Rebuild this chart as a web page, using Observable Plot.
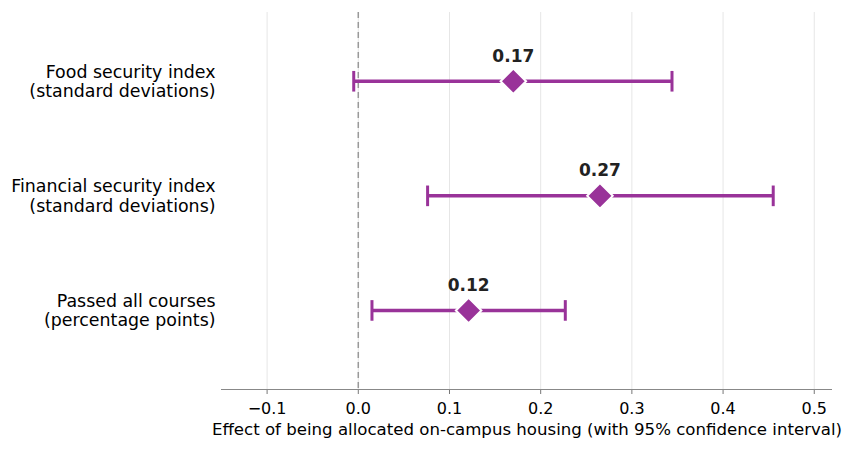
<!DOCTYPE html>
<html>
<head>
<meta charset="utf-8">
<script src="https://cdn.jsdelivr.net/npm/d3@7"></script>
<script src="https://cdn.jsdelivr.net/npm/@observablehq/plot@0.6"></script>
<style>
  html, body { margin: 0; padding: 0; background: #fff; }
  svg { font-family: "DejaVu Sans", sans-serif; }
</style>
</head>
<body>
<div id="chart"></div>
<script>
const outcomes = [
  "Food security index\n(standard deviations)",
  "Financial security index\n(standard deviations)",
  "Passed all courses\n(percentage points)"
];
const positions = [2, 1, 0];
const estimates = [0.17, 0.265, 0.121];
const lower = [-0.005, 0.076, 0.015];
const upper = [0.344, 0.455, 0.227];
const labels = ["0.17", "0.27", "0.12"];
const xTicks = [-0.1, 0.0, 0.1, 0.2, 0.3, 0.4, 0.5];
const xLabel = "Effect of being allocated on-campus housing (with 95% confidence interval)";

const data = outcomes.map((o, i) => ({
  outcome: o, pos: positions[i], est: estimates[i], lo: lower[i], hi: upper[i], label: labels[i]
}));

const purple = "#993399";
const yMin = -0.69;

const chart = Plot.plot({
  width: 844,
  height: 452,
  marginLeft: 221,
  marginRight: 12,
  marginTop: 12,
  marginBottom: 63,
  style: { fontFamily: "DejaVu Sans, sans-serif", color: "#000", background: "#fff" },
  x: { domain: [-0.15, 0.52] },
  y: { type: "linear", domain: [yMin, 2.6] },
  marks: [
    Plot.ruleX(xTicks, { stroke: "#e6e6e6", strokeWidth: 1 }),
    Plot.ruleX([0], { stroke: "#999", strokeWidth: 1.5, strokeDasharray: "6,4" }),
    Plot.axisX({
      ticks: xTicks,
      tickFormat: d3.format(".1f"),
      tickSize: 5,
      tickPadding: 8,
      fontSize: 16,
      stroke: "#777",
      color: "#000",
      label: null
    }),
    Plot.text([xLabel], { frameAnchor: "bottom", dy: 45, fontSize: 16.6, fill: "#000" }),
    Plot.ruleY([yMin], { stroke: "#888", strokeWidth: 1.2 }),
    Plot.axisY({
      ticks: positions,
      tickFormat: (d) => outcomes[positions.indexOf(d)],
      tickSize: 0,
      tickPadding: 6,
      fontSize: 17.4,
      lineHeight: 1.12,
      label: null
    }),
    Plot.link(data, { x1: "lo", x2: "hi", y1: "pos", y2: "pos", stroke: purple, strokeWidth: 3.5 }),
    Plot.link(data, { x1: "lo", x2: "lo", y1: (d) => d.pos + 0.09, y2: (d) => d.pos - 0.09, stroke: purple, strokeWidth: 3 }),
    Plot.link(data, { x1: "hi", x2: "hi", y1: (d) => d.pos + 0.09, y2: (d) => d.pos - 0.09, stroke: purple, strokeWidth: 3 }),
    Plot.dot(data, { x: "est", y: "pos", symbol: "diamond2", r: 11.5, fill: purple, stroke: "#fff", strokeWidth: 2 }),
    Plot.text(data, { x: "est", y: "pos", text: "label", dy: -25, fontSize: 17, fontWeight: "bold", fill: "#222" })
  ]
});
document.getElementById("chart").appendChild(chart);
</script>
</body>
</html>
